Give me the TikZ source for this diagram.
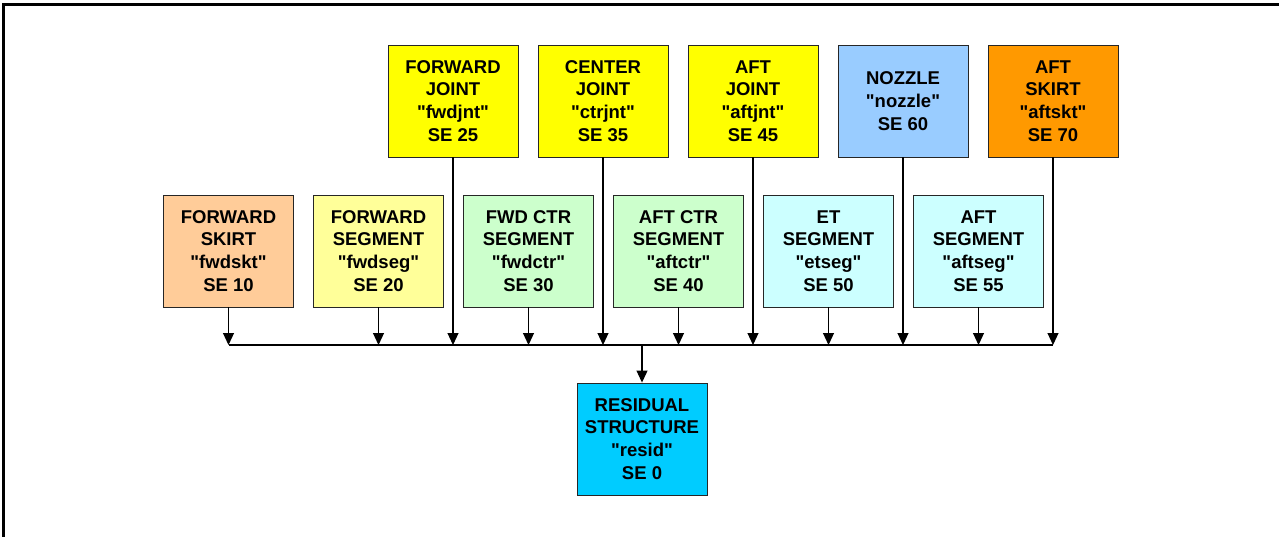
\documentclass[tikz,border=0pt]{standalone}
\usepackage{fontspec}
\setmainfont{Liberation Sans}[Ligatures=TeXOff]
\usetikzlibrary{arrows.meta}
\definecolor{peach}{HTML}{FFCC99}
\definecolor{paleyellow}{HTML}{FFFF99}
\definecolor{palegreen}{HTML}{CCFFCC}
\definecolor{palecyan}{HTML}{CCFFFF}
\definecolor{brightyellow}{HTML}{FFFF00}
\definecolor{skyblue}{HTML}{99CCFF}
\definecolor{deeporange}{HTML}{FF9900}
\definecolor{brightcyan}{HTML}{00CCFF}
\begin{document}
\begin{tikzpicture}[x=1pt,y=-1pt,
  blk/.style={draw=black!85, line width=0.9pt, minimum width=130pt, minimum height=112pt,
    align=center, inner sep=0pt, font=\fontsize{18.5}{22.8}\selectfont\bfseries},
  feed/.style={line width=1.1pt, -{Triangle[width=11pt,length=12pt]}},
  busline/.style={line width=1.1pt}]
\useasboundingbox (0,0) rectangle (1279,536);
\clip (0,0) rectangle (1279,536);
% outer frame
\draw[line width=3pt] (3,4) rectangle (1300,560);

% joints, nozzle and aft skirt
\node[blk, fill=brightyellow] (fj) at (453,101)  {FORWARD\\JOINT\\"fwdjnt"\\SE 25};
\node[blk, fill=brightyellow] (cj) at (603,101)  {CENTER\\JOINT\\"ctrjnt"\\SE 35};
\node[blk, fill=brightyellow] (aj) at (753,101)  {AFT\\JOINT\\"aftjnt"\\SE 45};
\node[blk, fill=skyblue]      (nz) at (903,101)  {NOZZLE\\"nozzle"\\SE 60};
\node[blk, fill=deeporange]   (ak) at (1053,101) {AFT\\SKIRT\\"aftskt"\\SE 70};

% skirt and segments
\node[blk, fill=peach]      (fs) at (228.5,251) {FORWARD\\SKIRT\\"fwdskt"\\SE 10};
\node[blk, fill=paleyellow] (fg) at (378.5,251) {FORWARD\\SEGMENT\\"fwdseg"\\SE 20};
\node[blk, fill=palegreen]  (fc) at (528.5,251) {FWD CTR\\SEGMENT\\"fwdctr"\\SE 30};
\node[blk, fill=palegreen]  (ac) at (678.5,251) {AFT CTR\\SEGMENT\\"aftctr"\\SE 40};
\node[blk, fill=palecyan]   (et) at (828.5,251) {ET\\SEGMENT\\"etseg"\\SE 50};
\node[blk, fill=palecyan]   (as) at (978.5,251) {AFT\\SEGMENT\\"aftseg"\\SE 55};

% residual structure
\node[blk, fill=brightcyan] (rs) at (642,439) {RESIDUAL\\STRUCTURE\\"resid"\\SE 0};

% collecting bus
\coordinate (bus) at (0,345);
\foreach \n in {fs,fg,fc,ac,et,as,fj,cj,aj,nz,ak}
  \draw[feed] (\n.south) -- (\n.south |- bus);
\draw[busline] (fs.south |- bus) -- (ak.south |- bus);
\draw[feed] (rs.north |- bus) -- (rs.north);
\end{tikzpicture}
\end{document}
